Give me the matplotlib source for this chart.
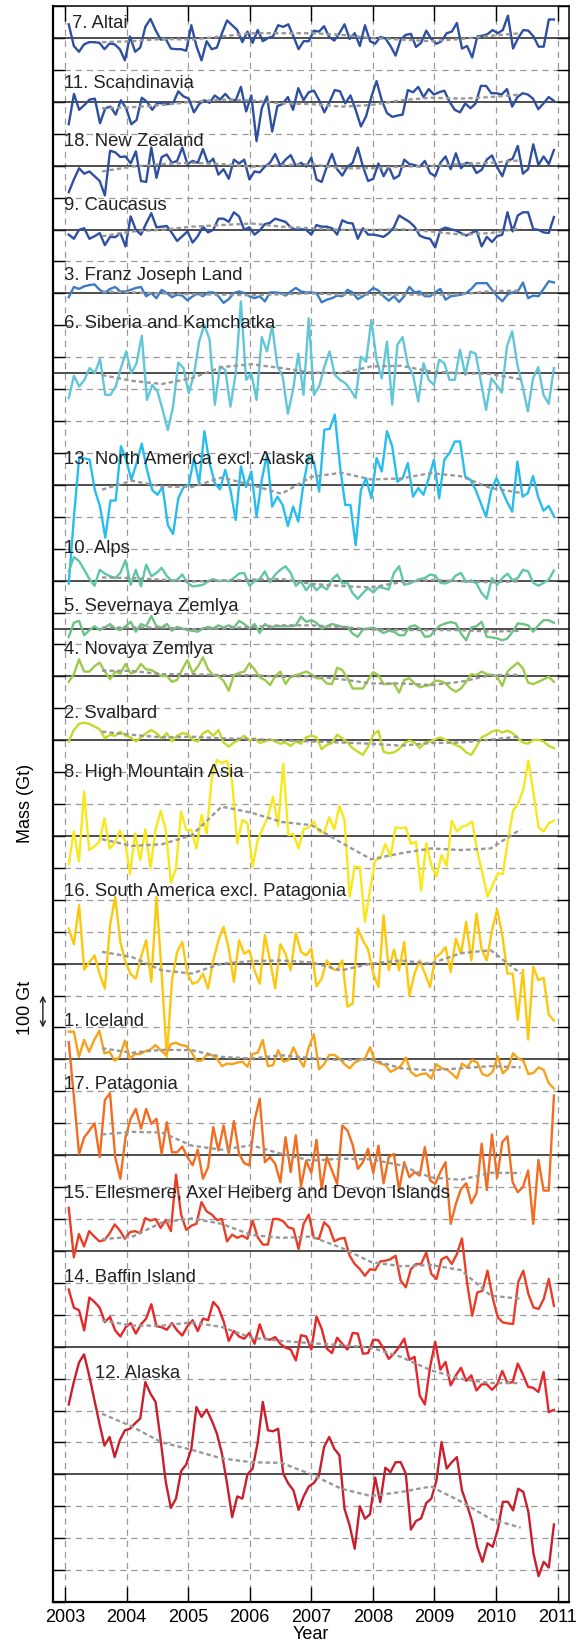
import numpy as np
import matplotlib
matplotlib.use("Agg")
import matplotlib.pyplot as plt

plt.rcParams["font.family"] = ["Liberation Sans", "DejaVu Sans"]
plt.rcParams["lines.scale_dashes"] = False

START, END = 2003.06, 2010.94          # first / last monthly sample
TREND_START, TREND_END = 2003.6, 2010.4
YEARS = list(range(2003, 2012))

# monthly mass anomalies (Gt), relative to each region's own baseline
ALTAI = [43, -25, -43, -20, -13, -13, -15, -35, -17, -20, -35, -70, 5, -43, -30, 35, 60, 25, -5, -3,
         -33, -35, -35, -40, 40, -25, -70, -10, -35, -30, 15, 55, 40, 25, -13, 20, -15, 25, -10, 0,
         5, 40, 35, 43, 5, -35, -10, -10, 23, 20, 37, 3, -8, 15, 43, -3, 15, -25, 40, -10,
         -18, 3, -1, -25, -55, -5, 10, 13, -28, -15, 23, -3, -18, -10, 15, 20, 47, -33, -25, -61,
         5, 7, 12, 25, 15, 25, 70, -33, 0, 25, 23, 5, -27, -27, 58, 58]
SCANDINAVIA = [-70, 25, -25, -10, 7, 10, -67, -20, -15, -40, 5, -20, -70, -57, 13, 0, -25, -3, -5, -7,
               -5, 33, 17, 10, -33, -7, 5, -3, 20, 7, 25, 7, 5, 47, -30, 20, -123, -20, 17, -93,
               -13, -7, 15, -25, 43, 5, 30, 35, 5, -33, 0, 37, 33, -5, 20, -25, -77, -45, 15, 65,
               5, -35, -47, -43, -40, 37, 30, 47, 15, 40, 23, 30, 35, 0, -25, -33, -5, -20, -5, 50,
               50, 27, 27, 23, 40, -15, 15, 27, 23, 10, -23, -5, 15, 3]
NEW_ZEALAND = [-83, -43, -8, -25, -18, -33, -48, -93, 47, 42, 27, 29, 7, 45, -48, -51, 57, -38, 27, 35,
               9, 15, 57, 5, 15, 9, 52, 7, 22, -28, -11, -41, 19, 7, 19, -43, -18, -21, -3, 9,
               37, -1, 19, 33, -1, 9, -3, 25, -43, -51, -3, 37, -11, -31, -3, 9, 57, -3, -48, -41,
               7, -33, -3, -41, -31, 19, 5, 2, -3, 15, -23, -33, 9, 29, -11, 39, -8, 9, 7, -23,
               -13, 19, 32, -5, -33, 15, 22, 62, -25, -11, 67, 2, 29, 5, 49]
CAUCASUS = [-16, -29, -1, 4, -29, -21, -11, -49, -23, -24, -11, -53, 41, -1, -16, 19, 51, 7, 9, 11,
            -11, -36, -21, -6, -41, -21, 9, -9, -1, 34, 34, 24, 54, 41, -1, 7, -16, -3, 17, 21,
            34, 29, 24, 7, -1, 1, -1, -16, 14, 9, 9, 4, -16, 29, 21, 19, -29, 4, -16, -16,
            -19, -23, -11, 7, 44, 34, 24, 9, -19, -26, -29, -56, -1, 6, 1, -3, -11, -19, -11, -3,
            -53, -23, -39, -21, -16, 54, -6, 44, 54, 54, 1, -1, -9, -11, 39]
FRANZ_JOSEPH = [-12, 20, 14, 22, 26, 28, 11, 1, 14, 20, 6, 6, 11, 17, 20, -9, 1, -15, 11, 1,
                -12, -4, -7, -22, -9, -1, -9, 3, 3, -9, -30, -18, 1, 6, 1, -9, -15, -9, -25, 3,
                3, 1, -7, 6, 17, 6, 3, 3, 1, -28, -20, -15, -7, -9, 11, 3, -18, -9, 3, 17,
                9, -9, -23, -9, -27, -9, 20, 3, 6, -9, -9, 3, 14, -20, -9, -7, -4, 1, 14, 32,
                32, 32, 11, -9, -25, -4, 3, 6, 34, -15, -7, -9, 14, 38, 34]
SIBERIA = [-78, -8, -42, -21, 16, 0, 44, -68, -68, -42, 16, 68, 0, 31, 117, -84, -37, -57, -115, -178,
           -105, 33, 16, -63, -5, 99, 152, 105, -99, 21, 10, -105, 0, 225, -21, 0, -84, 113, 68, 148,
           21, -10, -127, -52, 61, -68, 172, -68, -42, 21, 68, -5, -21, -31, -52, -78, 52, 36, 167, 42,
           -16, 99, -99, 89, 113, 26, -5, -89, 31, -21, -37, 42, 31, -21, -21, 73, -5, 68, 61, -26,
           -115, -16, -37, -61, 84, 131, 26, -42, -120, -16, 19, -68, -96, 16]
NORTH_AMERICA = [-309, -100, 87, 83, 79, -16, -68, -165, -49, -49, 121, 79, 16, 68, 129, 47, -16, -31, -7, -126,
                 -154, -42, -7, 0, 84, 5, 168, 68, 5, -14, 47, -16, -110, 58, -7, 42, -100, 16, 95, -68,
                 -37, -63, -129, -68, -115, 5, 89, 73, -21, 173, 175, 220, 58, -63, -63, -189, -16, 21, -42, 84,
                 42, 168, 121, 10, 21, 68, -37, -10, -31, 21, 79, -42, 79, 100, 136, 136, 26, 16, -16, -58,
                 -100, -16, 21, -16, -52, -84, 73, -37, -26, 28, -39, -81, -66, -98]
ALPS = [29, 74, 61, 34, 5, -16, 34, 22, 14, 8, 24, 64, -13, 34, -18, 50, 14, 24, 40, 14,
        -2, 3, 19, -7, -18, -16, -13, -2, 5, -2, 1, -2, 8, 22, 24, -16, -2, 5, 29, -5,
        19, 34, 45, 24, -16, -2, -30, -9, -30, -16, -28, 3, 19, -9, -7, -39, -57, -39, -23, -37,
        -20, -23, -28, 24, 45, -13, -9, -2, 5, 8, 19, 16, -7, -9, -2, 16, 24, -5, 1, -9,
        -39, -57, 8, -13, 8, 22, 1, 8, 34, 29, -7, -16, -7, 3, 32]
SEVERNAYA = [-26, 18, 24, -21, -5, 7, -5, 3, 14, 0, -5, 7, 21, -10, 14, 7, 39, 7, 3, 14,
             -7, 5, 0, -5, -7, -10, 0, 5, 0, 10, 3, 10, 3, 24, 14, 0, 14, -14, 14, 3,
             7, 7, 7, 7, 10, 37, 21, 26, 18, 0, 7, 14, 10, 5, 5, -16, -26, -3, 0, 3,
             -5, -14, -7, -10, -21, -21, 5, 10, 0, -26, -24, -5, 10, 16, 20, 16, -16, -37, 3, 7,
             21, -26, -28, -31, -37, -31, -10, 16, 14, 10, -10, 10, 26, 26, 18]
NOVAYA = [-17, 7, 53, 15, 15, 32, 43, 15, -9, 15, 9, 39, 9, 15, 39, 22, 20, 11, 1, 1,
          -17, -11, 22, 51, 11, 30, 60, 22, 4, 1, -14, -45, 4, 11, 15, 41, 22, -3, -11, -27,
          1, 15, -24, -1, 4, 9, 15, 7, -6, -6, -22, -24, 27, 20, -6, -38, -38, -38, -11, 13,
          4, -24, -24, -22, -51, -11, -6, -22, -34, -30, -27, -14, -14, -22, -38, -48, -38, -17, 7, 4,
          15, 7, 4, -1, -30, 15, 30, 43, 25, -20, -24, -17, -9, -1, -17]
SVALBARD = [-4, 32, 51, 55, 51, 43, 34, 6, 17, 14, 27, 14, 9, -4, 9, 22, 32, 22, 6, 22,
            -4, 14, 22, 20, 1, -4, 22, 30, 14, 32, -7, -20, -7, 1, 14, -1, 6, -9, -4, 3,
            -4, -11, -7, -18, -4, -11, 9, 14, 9, -28, -15, -9, 17, 6, -7, -25, -36, -46, -20, 17,
            30, -36, -41, -38, -28, -9, -1, -7, -25, -7, -4, 3, 9, 1, -7, -15, -22, -38, -46, -20,
            9, 17, 27, 32, 24, 30, 22, 6, -7, -11, 1, 1, -4, -18, -25]
HIGH_MOUNTAIN_ASIA = [-88, 14, -80, 139, -44, -33, -18, 55, -39, -23, 17, -15, -119, 8, -75, 21, -101, 19, 79, 19,
                      -146, -101, 76, 19, 19, -39, 66, 8, 181, 238, 228, 236, 170, -23, 50, 40, -96, -13, 24, 61,
                      123, 31, 226, 3, 6, -39, 21, 27, 45, 14, 10, 59, 21, 94, 50, -190, -96, -98, -269, -169,
                      -77, -70, -25, -65, 27, 24, 27, -25, -18, -171, -23, -91, -127, -60, -94, 48, 14, 29, 34, 45,
                      -49, -117, -190, -154, -117, -119, -13, 79, 102, 146, 236, 134, 27, 14, 40, 48]
SOUTH_AMERICA = [110, 61, 183, -19, 5, 26, -33, -78, 120, 209, 68, 5, -33, -47, 21, 73, -57, 209, -31, -292,
                 -52, 37, 68, -31, -63, -57, -31, -78, 10, 73, 115, 47, -57, 73, 31, 42, -21, -63, 89, 10,
                 -78, 61, 31, -21, 96, 37, 26, 47, -71, -47, 10, -16, -21, 10, -135, -125, 110, 73, 44, -31,
                 -73, 152, -21, 44, -21, 68, -100, -31, 10, -31, -73, 19, 31, 52, -26, 78, 31, 131, 10, 157,
                 44, 10, 105, 169, 89, -31, -31, -176, -19, -238, -10, -52, -44, -160, -178]
ICELAND = [87, 87, 8, 61, 24, 61, 90, 19, 24, -4, 8, 59, 3, 17, 17, 26, 31, 45, 29, 14,
           48, 52, 45, 42, 24, -4, -4, 14, 14, 3, -21, -13, -15, -10, -7, -23, 17, 21, 61, -21,
           -18, 29, -7, -2, 38, 3, -23, 38, 79, -31, -15, 14, 14, 3, -15, -28, -10, -2, 3, 38,
           -7, -13, -18, -39, -31, -21, 6, -39, -52, -46, -44, -60, -15, -28, -31, -44, -60, -13, -25, -2,
           -10, -46, -52, -39, 10, -44, -28, 19, 3, -4, -46, -42, -25, -33, -75, -91]
PATAGONIA = [354, 182, 4, 56, 77, 100, -6, 173, 194, -6, -74, 56, 114, 145, 83, 145, 98, 114, 4, 103,
             9, 9, 27, -6, -32, 17, -74, -38, 88, 15, 93, 4, 107, 4, -25, -32, 109, 177, -22, -6,
             -27, -85, 56, -53, 62, -98, -17, -56, 48, -106, -6, -48, -90, 93, 77, 33, -43, -22, 20, -56,
             30, -88, -6, 4, -109, -22, -69, -53, -64, 25, -79, -90, -53, -22, -215, -153, -106, -88, -151, -119,
             36, -109, 65, -71, 41, 59, -85, -116, -100, -48, -215, -15, -111, -111, 187]
ELLESMERE = [135, -20, 53, 14, 62, 45, 30, 34, 55, 83, 64, 38, 59, 62, 55, 103, 95, 100, 72, 97,
             62, 239, 114, 66, 79, 85, 153, 124, 114, 97, 100, 30, 51, 41, 48, 38, 95, 43, 20, 20,
             100, 100, 93, 74, 69, 6, 85, 114, 41, 38, 90, 74, 30, 38, 41, -15, -41, -57, -78, -57,
             -60, -33, -31, -26, -15, -93, -114, -57, -41, -41, -5, -72, -88, -26, -18, -41, -10, 39, -100, -203,
             -130, -125, -62, -146, -208, -224, -227, -229, -98, -62, -135, -177, -182, -151, -88, -172]
BAFFIN = [179, 122, 114, 51, 154, 140, 122, 77, 93, 51, 32, 60, 74, 41, 70, 88, 133, 64, 61, 53,
          74, 51, 35, 64, 83, 49, 88, 83, 140, 122, 80, 18, 49, 32, 25, 43, 9, 70, 25, 22,
          30, 9, -3, -9, -43, 36, 32, -9, 95, 56, -6, -20, 28, 9, -9, 43, 41, -22, -20, 22,
          20, -6, -38, -22, -1, 25, -41, -32, -153, -181, -64, 15, -72, -48, -121, -90, -66, -107, -90, -137,
          -118, -118, -135, -118, -76, -114, -111, -53, -87, -126, -129, -142, -79, -205, -198]
ALASKA = [219, 290, 350, 376, 310, 235, 160, 90, 117, 54, 107, 138, 143, 160, 175, 289, 253, 227, 107, -24,
          -105, -76, 10, 31, 80, 211, 180, 203, 169, 128, 65, -29, -134, -69, -76, 0, 18, 100, 227, 138,
          135, 143, 2, -29, -50, -111, -69, -38, -27, -3, 86, 117, 80, 60, -108, -160, -233, -100, -139, -125,
          -10, -87, 21, 7, 38, 38, 2, -173, -146, -138, -90, -76, -19, 101, 18, 38, 54, -50, -97, -149,
          -227, -274, -216, -227, -174, -86, -86, -113, -45, -55, -118, -248, -319, -274, -292, -157]

# smoothed series (Gt), 15 samples between TREND_START and TREND_END
ALTAI_TREND = [-13, -10, -3, -5, 5, 15, 15, 15, 10, 0, -5, -10, -3, 7, 15]
SCANDINAVIA_TREND = [-20, -17, -10, 0, 7, 5, -5, -7, -15, -10, 5, 13, 10, 15, 23]
NEW_ZEALAND_TREND = [-18, -3, 5, 9, 5, -3, 2, 5, -8, -8, -3, -1, 5, 9, 17]
CAUCASUS_TREND = [-21, -6, -1, 9, 14, 19, 9, 4, -1, -1, 1, -6, -16, -11, 4]
FRANZ_JOSEPH_TREND = [6, 3, 0, -3, -4, -6, -3, 0, -4, -4, -4, -4, -3, 7, 9]
SIBERIA_TREND = [-6, -24, -34, -16, 19, 28, 16, 2, 0, 21, 23, 5, 0, -3, -19]
NORTH_AMERICA_TREND = [-15, 13, -5, -7, 23, 0, -28, 25, 38, 17, 20, 37, 27, -10, -25]
ALPS_TREND = [10, 8, 3, -3, 0, 3, 5, -10, -17, -21, -5, 2, -2, -5, -2]
SEVERNAYA_TREND = [3, 3, 3, -2, 0, 5, 10, 10, 5, -3, -5, -5, -5, -10, -7]
NOVAYA_TREND = [18, 17, 7, 7, 4, 4, -1, 1, -9, -22, -22, -27, -17, 4, 5]
SVALBARD_TREND = [27, 17, 9, 11, 6, 4, -1, -4, -7, -11, -17, -9, -7, 2, 12]
HIGH_MOUNTAIN_ASIA_TREND = [-10, -31, -26, 2, 92, 73, 44, 34, -21, -73, -54, -39, -44, -39, 21]
SOUTH_AMERICA_TREND = [37, 21, -21, -31, 0, 8, 10, 4, -21, 0, 10, 0, 33, 42, -31]
ICELAND_TREND = [35, 21, 30, 29, 8, 3, 13, 4, -2, 0, -28, -34, -28, -21, -25]
PATAGONIA_TREND = [65, 73, 71, 30, 17, 31, 4, -17, -11, -13, -32, -70, -77, -55, -56]
ELLESMERE_TREND = [37, 44, 89, 102, 85, 50, 41, 45, 10, -35, -48, -44, -60, -140, -150]
BAFFIN_TREND = [83, 66, 66, 76, 62, 28, 18, 11, 5, -3, -32, -74, -101, -114, -114]
ALASKA_TREND = [190, 150, 100, 77, 50, 38, 36, 0, -45, -68, -55, -38, -85, -140, -167]

LABELS = ["7. Altai", "11. Scandinavia", "18. New Zealand", "9. Caucasus", "3. Franz Joseph Land",
          "6. Siberia and Kamchatka", "13. North America excl. Alaska", "10. Alps",
          "5. Severnaya Zemlya", "4. Novaya Zemlya", "2. Svalbard", "8. High Mountain Asia",
          "16. South America excl. Patagonia", "1. Iceland", "17. Patagonia",
          "15. Ellesmere, Axel Heiberg and Devon Islands", "14. Baffin Island", "12. Alaska"]
SERIES = [ALTAI, SCANDINAVIA, NEW_ZEALAND, CAUCASUS, FRANZ_JOSEPH, SIBERIA, NORTH_AMERICA, ALPS,
          SEVERNAYA, NOVAYA, SVALBARD, HIGH_MOUNTAIN_ASIA, SOUTH_AMERICA, ICELAND, PATAGONIA,
          ELLESMERE, BAFFIN, ALASKA]
TRENDS = [ALTAI_TREND, SCANDINAVIA_TREND, NEW_ZEALAND_TREND, CAUCASUS_TREND, FRANZ_JOSEPH_TREND,
          SIBERIA_TREND, NORTH_AMERICA_TREND, ALPS_TREND, SEVERNAYA_TREND, NOVAYA_TREND,
          SVALBARD_TREND, HIGH_MOUNTAIN_ASIA_TREND, SOUTH_AMERICA_TREND, ICELAND_TREND,
          PATAGONIA_TREND, ELLESMERE_TREND, BAFFIN_TREND, ALASKA_TREND]

# layout: vertical offset of each curve (Gt) and label anchor
BASELINES = [4900, 4700, 4500, 4300, 4100, 3850, 3500, 3200, 3050, 2900, 2700, 2400, 2000,
             1700, 1400, 1100, 800, 400]
LABEL_Y = [4944, 4756, 4575, 4376, 4157, 4005, 3580, 3300, 3120, 2985, 2783, 2599, 2227,
           1819, 1620, 1281, 1018, 715]
LABEL_X = [2003.12] + [2002.985] * 16 + [2003.49]
COLORS = ["#2f4fa0", "#2f4fa0", "#2f4fa0", "#2f4fa0", "#3c7cc6", "#62c6d9", "#27bdee", "#5fc6a8",
          "#6cc383", "#9ccb4a", "#c5d92a", "#f7e81b", "#fdc70c", "#f7a21b", "#f26d21",
          "#ea3e26", "#e8262a", "#c91f2c"]

fig = plt.figure(figsize=(5.82, 16.47), dpi=100)
ax = fig.add_axes([0.0906, 0.0273, 0.8876, 0.9690])

grid_style = dict(color="#9a9a9a", lw=0.9, ls=(0, (4.5, 3.5)), zorder=1)
for y in range(100, 5000, 100):
    if y not in BASELINES:
        ax.axhline(y, **grid_style)
for yr in YEARS:
    ax.axvline(yr, **grid_style)
for b in BASELINES:
    ax.axhline(b, color="#1e1e1e", lw=1.1, zorder=2)

t_trend = np.linspace(TREND_START, TREND_END, 15)
for vals, trend, base, col, lab, lx, ly in zip(SERIES, TRENDS, BASELINES, COLORS, LABELS, LABEL_X, LABEL_Y):
    t = np.linspace(START, END, len(vals))
    ax.plot(t, base + np.array(vals), color=col, lw=1.7, zorder=3)
    ax.plot(t_trend, base + np.array(trend), color="#999999", lw=1.7,
            ls=(0, (3.2, 2.2)), zorder=4)
    ax.text(lx, ly, lab, fontsize=13.3, color="#222222", va="center", ha="left", zorder=5)

ax.set_xlim(2002.80, 2011.19)
ax.set_ylim(0, 5000)
ax.set_yticks(range(0, 5001, 100))
ax.set_xticks(YEARS)
ax.set_xticklabels([str(y) for y in YEARS], fontsize=13)
ax.tick_params(axis="y", which="both", direction="in", length=8.5, width=1.0,
               left=True, right=True, labelleft=False)
ax.tick_params(axis="x", direction="in", length=11, width=1.0, top=True, bottom=True, pad=5)
for s in ax.spines.values():
    s.set_linewidth(1.1)
ax.spines["left"].set_linewidth(1.6)
ax.spines["bottom"].set_linewidth(1.6)
ax.set_xlabel("Year", fontsize=13, labelpad=0)

ax.text(2002.35, 2503, "Mass (Gt)", rotation=90, fontsize=13, ha="center", va="center",
        clip_on=False)
ax.text(2002.35, 1861, "100 Gt", rotation=90, fontsize=13, ha="center", va="center",
        clip_on=False)
ax.annotate("", xy=(2002.64, 1900), xytext=(2002.64, 1800),
            arrowprops=dict(arrowstyle="<->", color="#1e1e1e", lw=1.0,
                            shrinkA=0, shrinkB=0, mutation_scale=9),
            annotation_clip=False)

fig.savefig("out.png", dpi=100)
